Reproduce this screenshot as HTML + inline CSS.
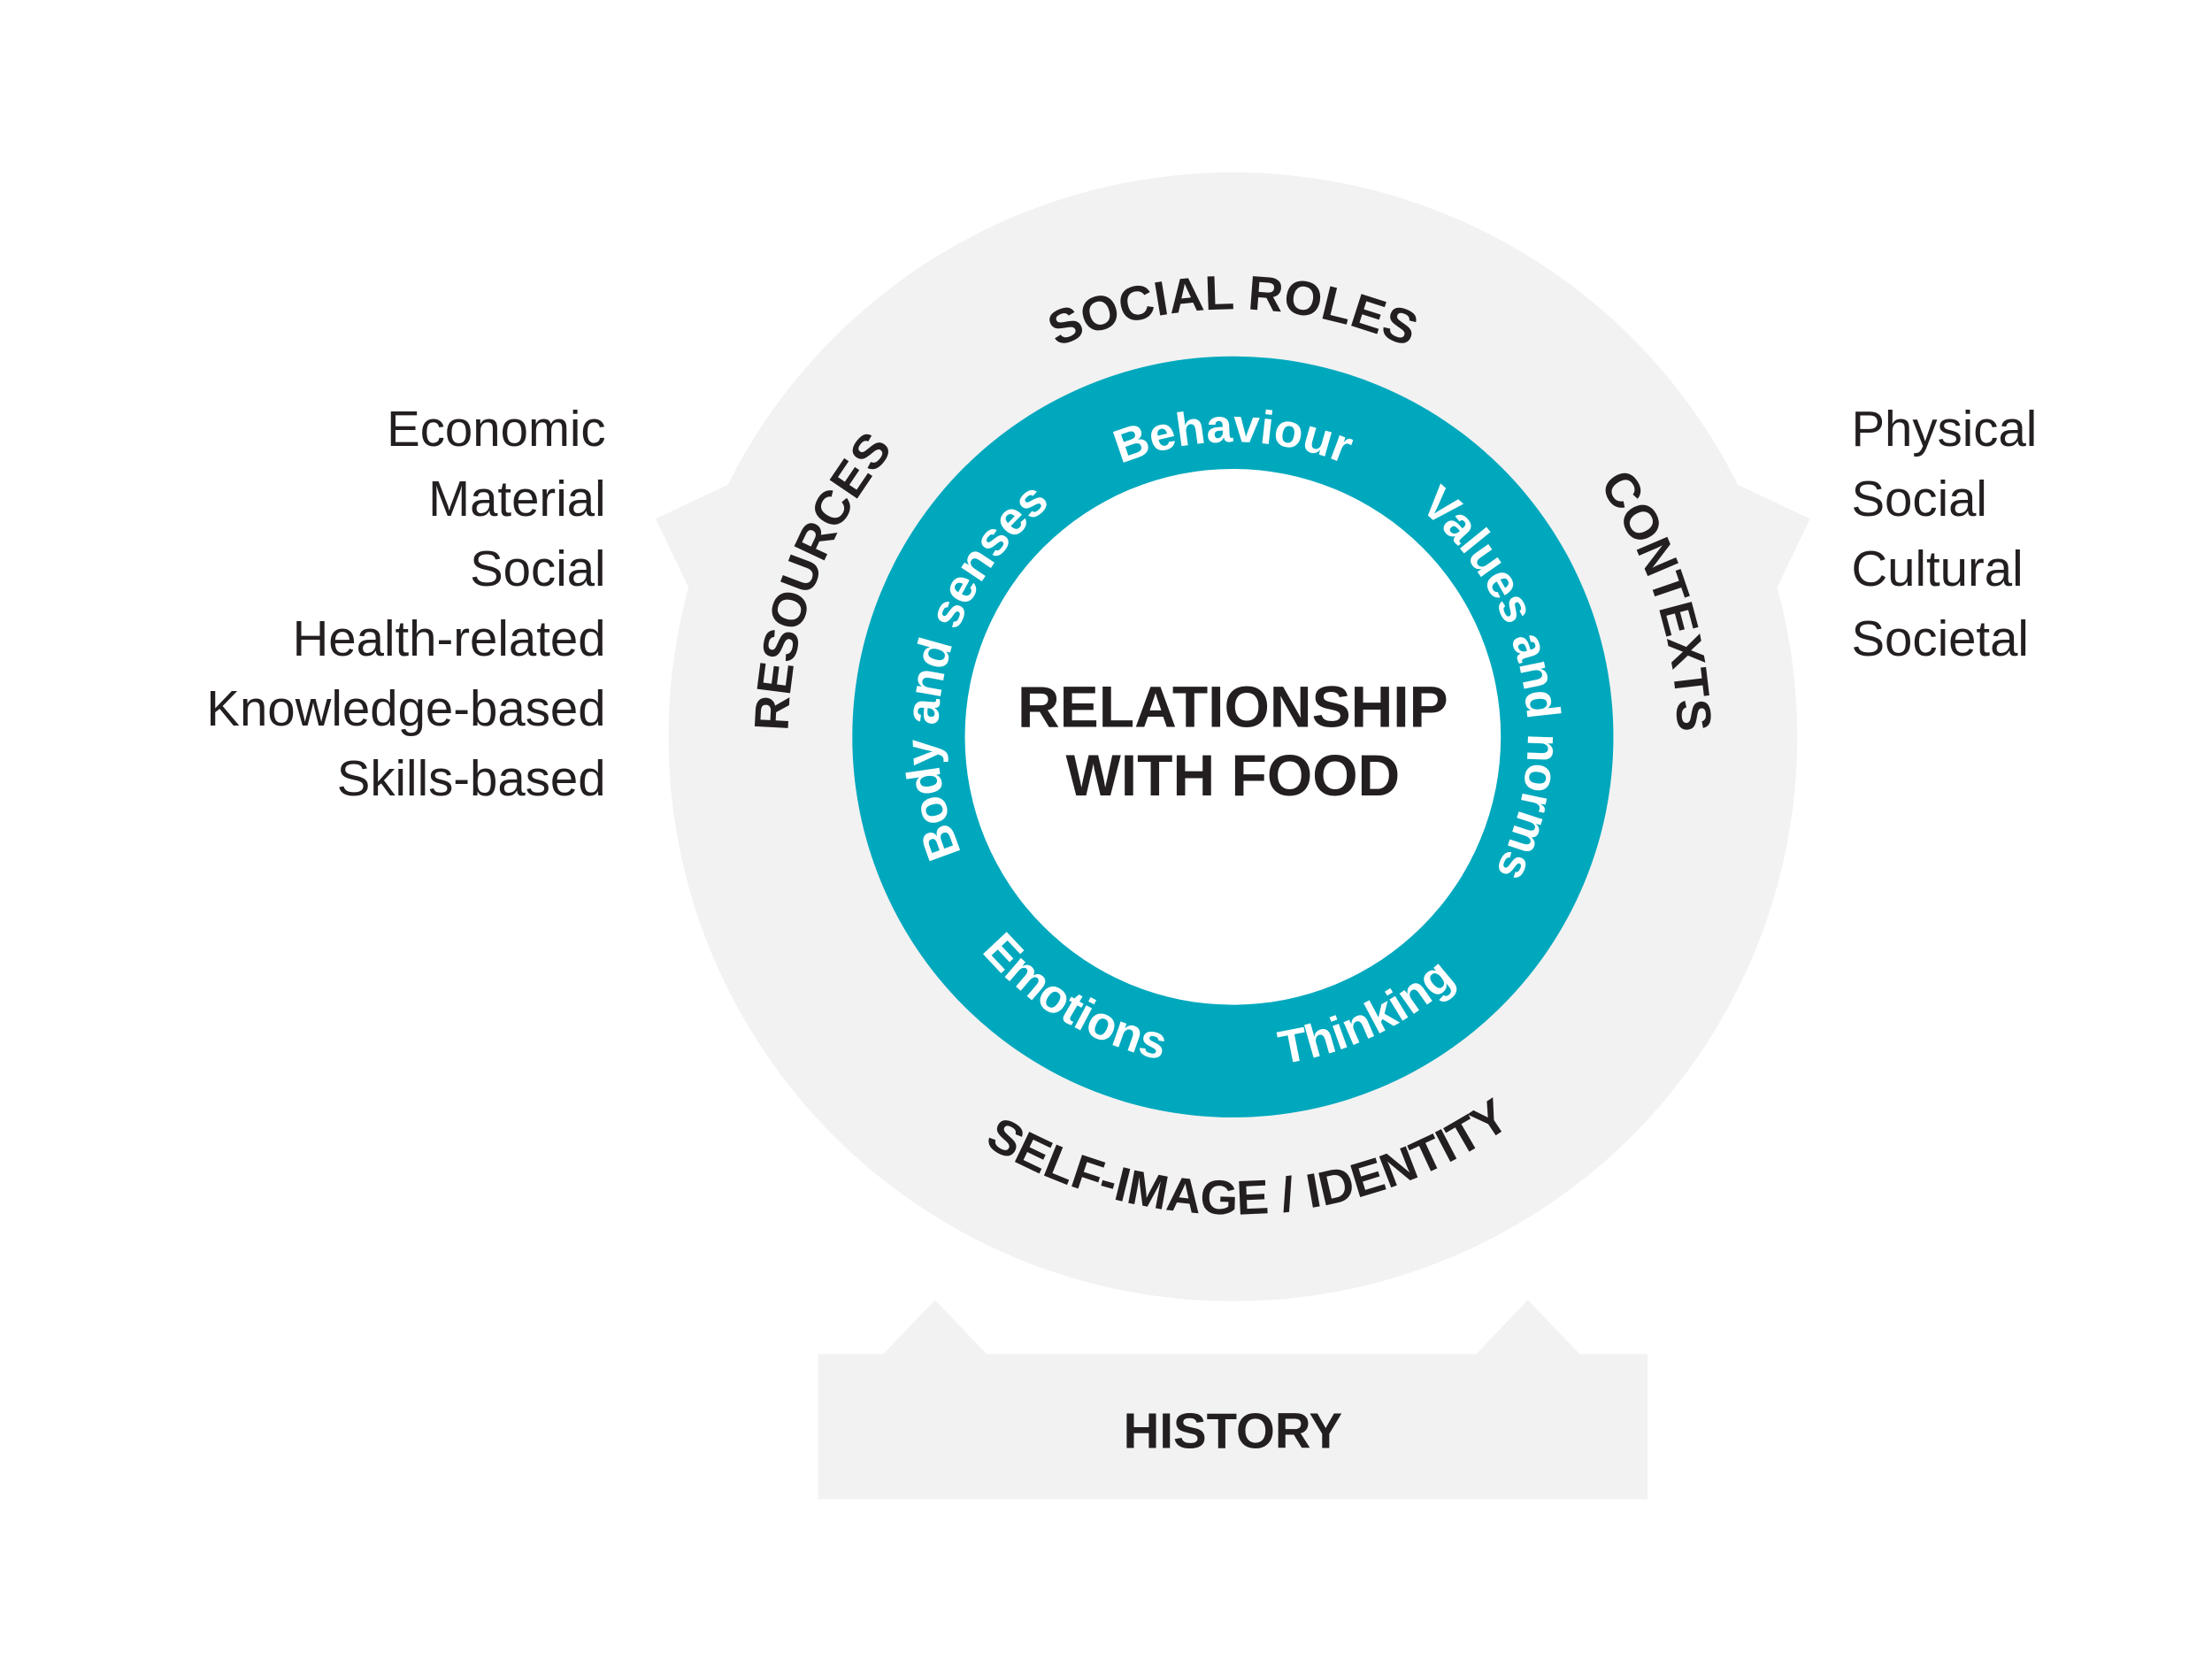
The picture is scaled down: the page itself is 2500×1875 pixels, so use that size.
<!DOCTYPE html>
<html><head><meta charset="utf-8"><style>
html,body{margin:0;padding:0;background:#fff}
svg{display:block}
</style></head><body>
<svg width="2500" height="1875" viewBox="0 0 1552 1164" xmlns="http://www.w3.org/2000/svg" font-family="'Liberation Sans', 'DejaVu Sans', sans-serif">
<defs>
<path id="cw300" d="M865,817 A300,300 0 1 1 865,217 A300,300 0 1 1 865,817"/>
<path id="cwR" d="M865,829 A312,312 0 1 1 865,205 A312,312 0 1 1 865,829"/>
<path id="ccw335" d="M865,182 A335,335 0 1 0 865,852 A335,335 0 1 0 865,182"/>
<path id="cw207" d="M865,724 A207,207 0 1 1 865,310 A207,207 0 1 1 865,724"/>
<path id="ccw232" d="M865,285 A232,232 0 1 0 865,749 A232,232 0 1 0 865,285"/>
</defs>
<rect width="1552" height="1164" fill="#fff"/>
<g fill="#f2f2f2">
<circle cx="865" cy="517" r="396"/>
<polygon points="515,338 460,364 484,414 540,414"/>
<polygon points="1215,338 1270,364 1246,414 1190,414"/>
<rect x="574" y="950" width="582" height="102"/>
<polygon points="615,955 656,912 697,955"/>
<polygon points="1031,955 1072,912 1113,955"/>
</g>
<circle cx="865" cy="517" r="267" fill="#00a8bd"/>
<circle cx="865" cy="517" r="188" fill="#fff"/>
<g fill="#231f20" font-weight="bold" font-size="34">
<text text-anchor="middle"><textPath href="#cw300" startOffset="50%">SOCIAL ROLES</textPath></text>
<text text-anchor="middle"><textPath href="#cwR" startOffset="30.7%">RESOURCES</textPath></text>
<text text-anchor="middle"><textPath href="#cwR" startOffset="70.1%">CONTEXTS</textPath></text>
<text text-anchor="middle"><textPath href="#ccw335" startOffset="50.6%">SELF-IMAGE / IDENTITY</textPath></text>
</g>
<g fill="#fff" font-weight="bold" font-size="33">
<text text-anchor="middle"><textPath href="#cw207" startOffset="50%">Behaviour</textPath></text>
<text text-anchor="middle"><textPath href="#cw207" startOffset="71.7%">Values and norms</textPath></text>
<text text-anchor="middle"><textPath href="#cw207" startOffset="29%">Body and senses</textPath></text>
<text text-anchor="middle"><textPath href="#ccw232" startOffset="41.4%">Emotions</textPath></text>
<text text-anchor="middle"><textPath href="#ccw232" startOffset="57.1%">Thinking</textPath></text>
</g>
<g fill="#231f20" font-weight="bold" font-size="41" text-anchor="middle">
<text x="865" y="510">RELATIONSHIP</text>
<text x="865" y="558">WITH FOOD</text>
<text x="865" y="1016" font-size="35">HISTORY</text>
</g>
<g fill="#231f20" font-size="35" text-anchor="end">
<text x="425" y="313">Economic</text>
<text x="425" y="362">Material</text>
<text x="425" y="411">Social</text>
<text x="425" y="460">Health-related</text>
<text x="425" y="509">Knowledge-based</text>
<text x="425" y="558">Skills-based</text>
</g>
<g fill="#231f20" font-size="35">
<text x="1299" y="313">Physical</text>
<text x="1299" y="362">Social</text>
<text x="1299" y="411">Cultural</text>
<text x="1299" y="460">Societal</text>
</g>
</svg>
</body></html>
